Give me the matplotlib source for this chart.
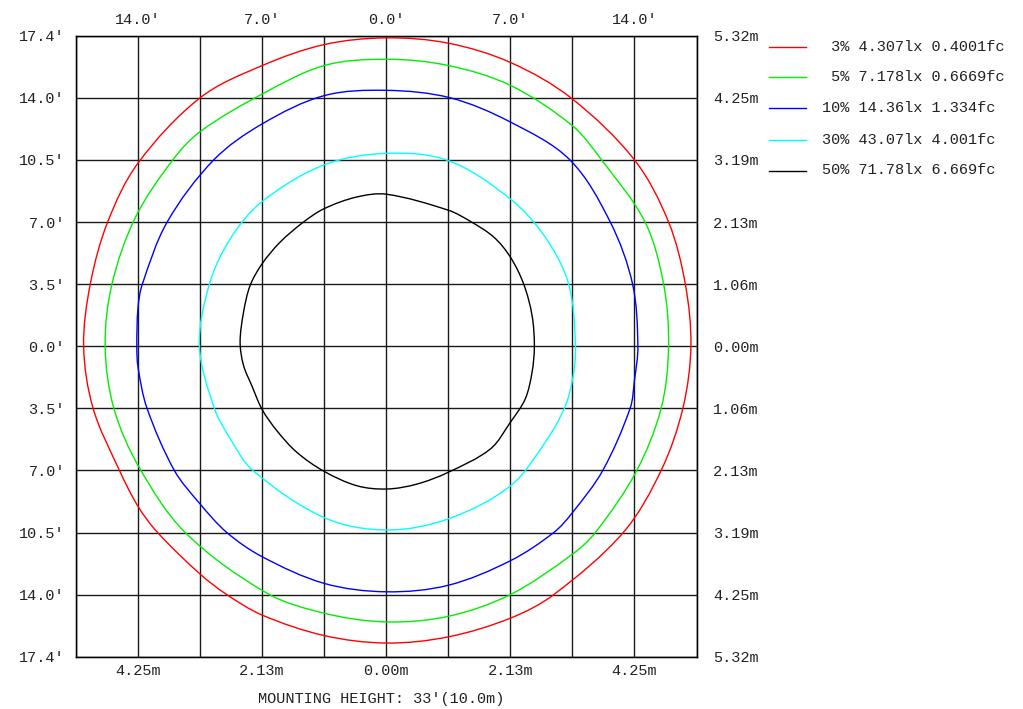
import matplotlib
matplotlib.use('Agg')
import matplotlib.pyplot as plt
from matplotlib.lines import Line2D
from matplotlib.path import Path
from matplotlib.patches import PathPatch
import numpy as np

plt.rcParams['font.family'] = ['Liberation Mono', 'DejaVu Sans Mono']

# ---------------- data (metres, centre of the luminaire at 0,0) ----------------
LIM = 5.32
grid_pos = np.linspace(-LIM, LIM, 11)

left_labels = ["17.4'", "14.0'", "10.5'", "7.0'", "3.5'", "0.0'", "3.5'", "7.0'", "10.5'", "14.0'", "17.4'"]
right_labels = ["5.32m", "4.25m", "3.19m", "2.13m", "1.06m", "0.00m", "1.06m", "2.13m", "3.19m", "4.25m", "5.32m"]
bottom_labels = ["", "4.25m", "", "2.13m", "", "0.00m", "", "2.13m", "", "4.25m", ""]
top_labels = ["", "14.0'", "", "7.0'", "", "0.0'", "", "7.0'", "", "14.0'", ""]

legend_labels = [" 3% 4.307lx 0.4001fc",
                 " 5% 7.178lx 0.6669fc",
                 "10% 14.36lx 1.334fc",
                 "30% 43.07lx 4.001fc",
                 "50% 71.78lx 6.669fc"]
colors = ['#ff0000', '#00ee00', '#0000ff', '#00ffff', '#000000']

red_x = [5.224, 5.128, 4.841, 4.256, 3.165, 2.128, 1.064, 0, -1.064, -2.128, -3.192, -4.256, -4.777,
         -5.075, -5.189, -5.027, -4.575, -4.256, -3.921, -3.192, -2.734, -2.128, -1.064, 0, 1.064, 2.128,
         2.873, 4.064, 4.714, 5.086]
red_y = [0, 1.064, 2.128, 3.192, 4.256, 4.862, 5.192, 5.283, 5.168, 4.808, 4.256, 3.138, 2.128,
         1.064, 0, -1.064, -2.128, -2.745, -3.192, -3.905, -4.256, -4.607, -4.958, -5.086, -4.980, -4.660,
         -4.256, -3.192, -2.128, -1.064]

green_x = [4.841, 4.756, 4.437, 3.692, 3.192, 2.128, 1.064, 0, -1.064, -2.128, -3.192,
           -3.660, -4.300, -4.703, -4.820, -4.671, -4.240, -3.447, -2.060, -1.064, 0,
           1.064, 2.128, 3.192, 3.586, 4.280, 4.714]
green_y = [0, 1.064, 2.128, 3.192, 3.777, 4.469, 4.809, 4.916, 4.809, 4.320, 3.676,
           3.192, 2.210, 1.064, 0, -1.064, -2.070, -3.192, -4.224, -4.575, -4.724,
           -4.628, -4.256, -3.564, -3.192, -2.160, -1.064]

blue_x = [4.315, 4.224, 3.841, 3.149, 2.128, 1.096, 0, -1.064, -2.128, -2.958, -3.756, -4.182,
          -4.256, -4.277, -4.256, -4.102, -3.634, -3.192, -2.734, -2.128, -1.064, 0, 1.064, 2.128, 2.873,
          3.192, 3.713, 4.182, 4.256]
blue_y = [0, 1.064, 2.128, 3.192, 3.841, 4.256, 4.384, 4.293, 3.809, 3.192, 2.128, 1.064,
          0.665, 0, -0.362, -1.064, -2.128, -2.703, -3.192, -3.607, -4.064, -4.208, -4.096, -3.676, -3.192,
          -2.852, -2.128, -1.064, -0.585]

cyan_x = [3.245, 3.128, 2.726, 2.128, 1.064, 0, -1.064, -2.128, -2.674, -3.032, -3.203,
          -2.947, -2.674, -2.288, -1.064, 0, 1.064, 2.128, 2.726, 3.054, 3.192]
cyan_y = [0, 1.064, 1.868, 2.522, 3.181, 3.304, 3.107, 2.479, 1.841, 1.064, 0,
          -1.064, -1.587, -2.128, -2.937, -3.149, -2.958, -2.394, -1.646, -1.064, -0.585]

black_x = [2.540, 2.500, 2.357, 2.128, 1.842, 1.442, 1.064, 0.011, -0.503, -1.064, -1.418, -1.819, -2.128,
           -2.334, -2.447, -2.506, -2.447, -2.306, -2.128, -1.876, -1.532, -1.064, -0.503, 0.011, 0.527,
           1.064, 1.784, 2.128, 2.383, 2.500]
black_y = [0, 0.527, 1.064, 1.527, 1.871, 2.139, 2.330, 2.603, 2.557, 2.357, 2.128, 1.784, 1.413,
           1.041, 0.583, 0.069, -0.330, -0.675, -1.085, -1.447, -1.819, -2.145, -2.391, -2.447, -2.362,
           -2.160, -1.762, -1.304, -0.904, -0.447]

contours = [(red_x, red_y), (green_x, green_y), (blue_x, blue_y), (cyan_x, cyan_y), (black_x, black_y)]


def smooth_closed_path(xs, ys):
    """Closed cubic Bezier path through the given points, with chord-length tangents."""
    p = np.column_stack([xs, ys]).astype(float)
    n = len(p)
    tang = []
    for i in range(n):
        d = p[(i + 1) % n] - p[i - 1]
        tang.append(d / np.hypot(*d))
    verts = [p[0]]
    codes = [Path.MOVETO]
    for i in range(n):
        a, b = p[i], p[(i + 1) % n]
        L = np.hypot(*(b - a)) / 3.0
        verts += [a + tang[i] * L, b - tang[(i + 1) % n] * L, b]
        codes += [Path.CURVE4] * 3
    return Path(np.array(verts), codes)


# ---------------- figure ----------------
W, H = 1023, 709
FS = 11
TXT = '#222222'
fig = plt.figure(figsize=(W / 100, H / 100), dpi=100)
ax = fig.add_axes([76 / W, 1 - 656.7 / H, 620.5 / W, 621 / H])
ax.set_xlim(-LIM, LIM)
ax.set_ylim(-LIM, LIM)

ax.set_xticks(grid_pos)
ax.set_xticklabels(bottom_labels)
ax.set_yticks(grid_pos)
ax.set_yticklabels(left_labels)
ax.tick_params(axis='x', length=0, pad=5, labelsize=FS, labelcolor=TXT)
ax.tick_params(axis='y', length=0, pad=8, labelsize=FS, labelcolor=TXT)
ax.grid(True, color='#1a1a1a', lw=1.0, zorder=1)
ax.set_axisbelow(True)
for s in ax.spines.values():
    s.set_color('#1a1a1a')
    s.set_linewidth(1.0)

top = ax.twiny()
top.set_xlim(-LIM, LIM)
top.set_xticks(grid_pos)
top.set_xticklabels(top_labels)
top.tick_params(axis='x', length=0, pad=6, labelsize=FS, labelcolor=TXT)

right = ax.twinx()
right.set_ylim(-LIM, LIM)
right.set_yticks(grid_pos)
right.set_yticklabels(right_labels)
right.tick_params(axis='y', length=0, pad=12, labelsize=FS, labelcolor=TXT)

for (cx, cy), c in zip(contours, colors):
    ax.add_patch(PathPatch(smooth_closed_path(cx, cy), fill=False, edgecolor=c, lw=1.0, zorder=3))

fig.text(381 / W, 1 - 699 / H, "MOUNTING HEIGHT: 33'(10.0m)", ha='center', va='center',
         fontsize=FS, color=TXT)

leg_y = [47, 77, 108, 139.5, 170.5]
for yy, c, lab in zip(leg_y, colors, legend_labels):
    fig.add_artist(Line2D([769 / W, 806 / W], [1 - yy / H, 1 - yy / H], color=c, lw=1.0,
                          transform=fig.transFigure))
    fig.text(822 / W, 1 - yy / H, lab, ha='left', va='center', fontsize=FS, color=TXT)

fig.savefig('out.png', dpi=100)
